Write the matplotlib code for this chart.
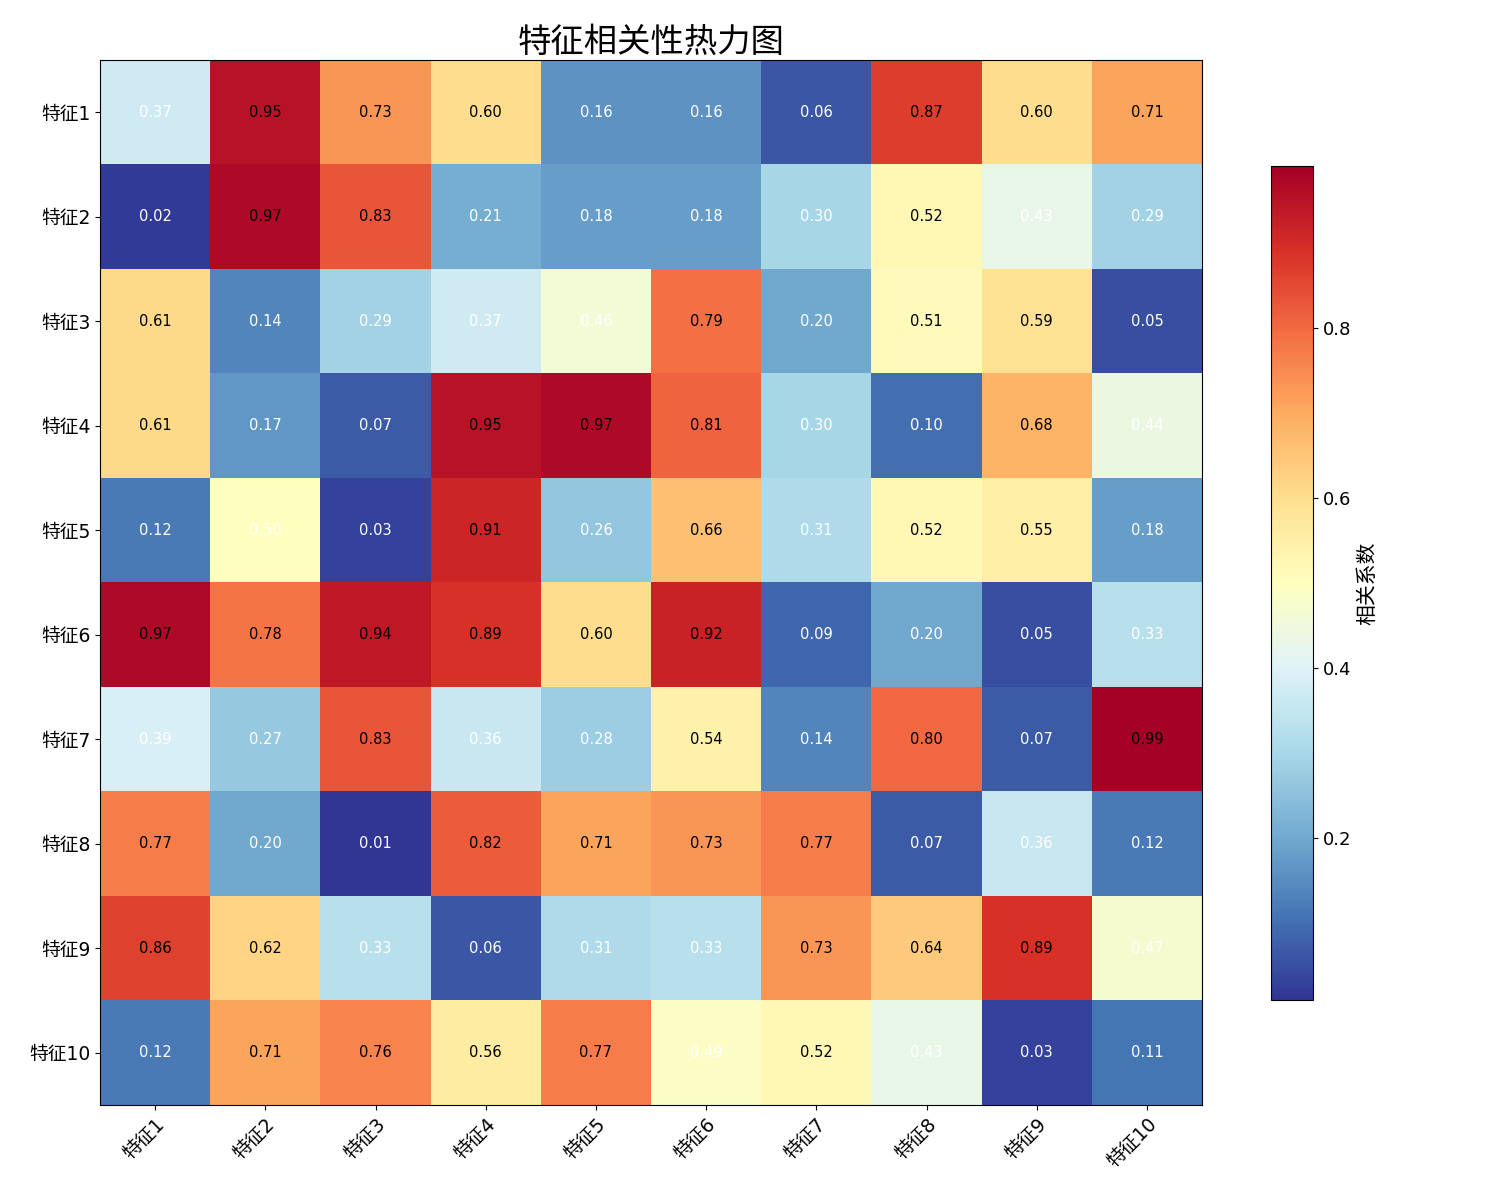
import matplotlib
matplotlib.use("Agg")
import matplotlib.pyplot as plt
import numpy as np

plt.rcParams['font.family'] = ['DejaVu Sans', 'Noto Sans CJK SC']

labels = [f"特征{i}" for i in range(1, 11)]
row1 = [0.37, 0.95, 0.73, 0.60, 0.16, 0.16, 0.06, 0.87, 0.60, 0.71]
row2 = [0.02, 0.97, 0.83, 0.21, 0.18, 0.18, 0.30, 0.52, 0.43, 0.29]
row3 = [0.61, 0.14, 0.29, 0.37, 0.46, 0.79, 0.20, 0.51, 0.59, 0.05]
row4 = [0.61, 0.17, 0.07, 0.95, 0.97, 0.81, 0.30, 0.10, 0.68, 0.44]
row5 = [0.12, 0.50, 0.03, 0.91, 0.26, 0.66, 0.31, 0.52, 0.55, 0.18]
row6 = [0.97, 0.78, 0.94, 0.89, 0.60, 0.92, 0.09, 0.20, 0.05, 0.33]
row7 = [0.39, 0.27, 0.83, 0.36, 0.28, 0.54, 0.14, 0.80, 0.07, 0.99]
row8 = [0.77, 0.20, 0.01, 0.82, 0.71, 0.73, 0.77, 0.07, 0.36, 0.12]
row9 = [0.86, 0.62, 0.33, 0.06, 0.31, 0.33, 0.73, 0.64, 0.89, 0.47]
row10 = [0.12, 0.71, 0.76, 0.56, 0.77, 0.49, 0.52, 0.43, 0.03, 0.11]

data = np.array([row1, row2, row3, row4, row5, row6, row7, row8, row9, row10])

fig = plt.figure(figsize=(15, 12), dpi=100)
ax = fig.add_axes([100/1500, 1 - 1105/1200, 1102/1500, 1045/1200])
cax = fig.add_axes([1271/1500, 1 - 1000/1200, 42/1500, 834/1200])

im = ax.imshow(data, cmap='RdYlBu_r', aspect='auto')
ax.set_xticks(range(10))
ax.set_yticks(range(10))
ax.set_xticklabels(labels, rotation=45, ha='right', rotation_mode='anchor', fontsize=13.5)
ax.set_yticklabels(labels, fontsize=13.5)

for i in range(10):
    for j in range(10):
        v = data[i, j]
        ax.text(j, i, f"{v:.2f}", ha='center', va='center',
                color='black' if v > 0.5 else 'white', fontsize=10.5)

ax.set_title("特征相关性热力图", fontsize=24, pad=6)

cb = fig.colorbar(im, cax=cax)
cb.set_label("相关系数", fontsize=15)
cb.ax.tick_params(labelsize=13)

fig.savefig("out.png", dpi=100)
